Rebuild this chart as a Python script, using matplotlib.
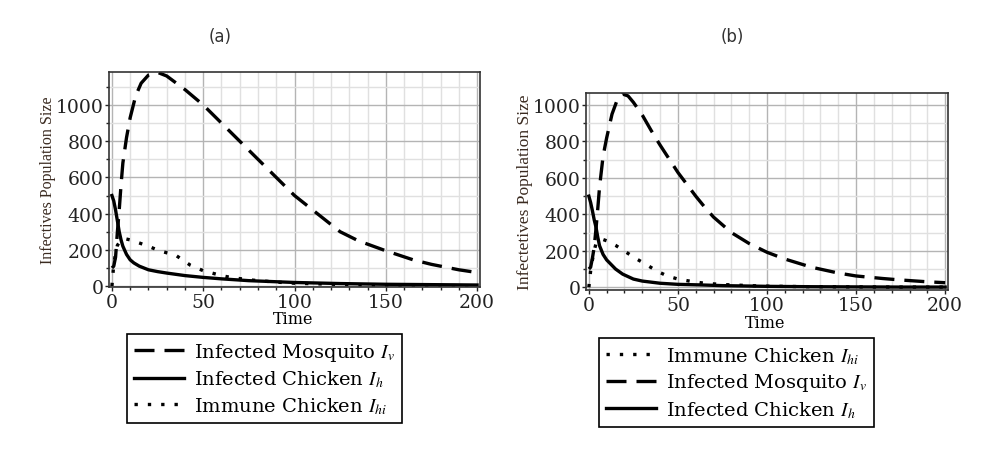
import numpy as np
import matplotlib.pyplot as plt
from matplotlib.ticker import MultipleLocator

# values
t_a = [0, 1, 2, 3, 4, 5, 6, 8, 10, 13, 16, 20, 25, 30, 40, 50, 60, 70, 80, 90, 100, 115, 125, 135, 150, 165, 175, 190, 200]
mosq_a = [100, 110, 160, 300, 420, 560, 680, 820, 930, 1050, 1120, 1165, 1180, 1160, 1085, 1000, 900, 800, 700, 600, 500, 380, 300, 250, 195, 145, 120, 90, 75]
t_ah = [0, 1, 2, 3, 4, 5, 6, 8, 10, 12, 15, 20, 25, 30, 40, 50, 60, 75, 100, 125, 150, 175, 200]
chick_a = [500, 470, 420, 360, 300, 255, 220, 175, 145, 128, 110, 90, 80, 72, 58, 48, 40, 30, 20, 14, 10, 8, 6]
t_ai = [0, 1, 2, 3, 5, 7, 10, 15, 20, 26, 35, 43, 50, 60, 66, 77, 90, 100, 125, 150, 175, 200]
imm_a = [0, 120, 180, 225, 255, 262, 255, 238, 220, 195, 170, 115, 85, 58, 46, 33, 22, 16, 9, 5, 3, 2]

t_b = [0, 1, 2, 3, 4, 5, 6, 8, 10, 13, 16, 19, 22, 25, 30, 35, 40, 50, 60, 65, 70, 80, 90, 100, 110, 125, 140, 150, 165, 175, 190, 200]
mosq_b = [100, 110, 160, 220, 320, 430, 550, 720, 820, 950, 1030, 1060, 1050, 1015, 945, 860, 780, 630, 500, 440, 385, 300, 240, 192, 155, 110, 78, 62, 48, 40, 30, 25]
t_bh = [0, 1, 2, 3, 4, 5, 6, 8, 10, 12, 15, 19, 25, 30, 40, 50, 62, 75, 100, 125, 150, 175, 200]
chick_b = [500, 465, 420, 370, 330, 275, 228, 180, 150, 130, 100, 72, 45, 34, 22, 16, 13, 9, 5, 3, 2, 1, 1]
t_bi = [0, 1, 2, 3, 4, 6, 8, 10, 15, 21, 26, 32, 38, 44, 50, 57, 65, 75, 90, 100, 125, 150, 175, 200]
imm_b = [0, 90, 150, 200, 240, 260, 262, 255, 230, 192, 160, 126, 90, 62, 45, 33, 22, 15, 9, 6, 3, 2, 1, 1]

titles = ["(a)", "(b)"]
ylabels = ["Infectives Population Size", "Infectetives Population Size"]
lab_v = r"Infected Mosquito $I_v$"
lab_h = r"Infected Chicken $I_h$"
lab_hi = r"Immune Chicken $I_{hi}$"

plt.rcParams["mathtext.fontset"] = "stix"
serif = "Liberation Serif"
W, H = 996, 456
fig = plt.figure(figsize=(W / 100, H / 100), dpi=100)

dash = (0, (6, 3))
dot = (0, (1, 3))

def setup(ax, ylim, ylabel, ysize):
    ax.set_xlim(-1.6, 201.6)
    ax.set_ylim(*ylim)
    ax.xaxis.set_major_locator(MultipleLocator(50))
    ax.xaxis.set_minor_locator(MultipleLocator(10))
    ax.yaxis.set_major_locator(MultipleLocator(200))
    ax.yaxis.set_minor_locator(MultipleLocator(100))
    ax.grid(True, which="major", color="#b4b4b4", lw=1.0)
    ax.grid(True, which="minor", color="#e0e0e0", lw=1.0)
    ax.set_axisbelow(True)
    ax.tick_params(which="both", length=3, width=1, pad=1, labelsize=13.5, colors="#222222")
    ax.tick_params(which="minor", length=2)
    for lbl in ax.get_xticklabels() + ax.get_yticklabels():
        lbl.set_family("DejaVu Serif")
    for s in ax.spines.values():
        s.set_linewidth(1.2)
        s.set_color("#333333")
    ax.set_ylabel(ylabel, family=serif, fontsize=ysize, labelpad=0, color="#3a2a20")

# panel (a)
ax1 = fig.add_axes([109 / W, 1 - 288 / H, 371 / W, 215 / H])
l1, = ax1.plot(t_a, mosq_a, color="black", lw=2.4, ls=dash)
l2, = ax1.plot(t_ah, chick_a, color="black", lw=2.4, ls="-")
l3, = ax1.plot(t_ai, imm_a, color="black", lw=2.4, ls=dot)
setup(ax1, (-5, 1182), ylabels[0], 11.5)

# panel (b)
ax2 = fig.add_axes([586 / W, 1 - 291 / H, 362 / W, 197 / H])
m1, = ax2.plot(t_b, mosq_b, color="black", lw=2.4, ls=dash)
m2, = ax2.plot(t_bh, chick_b, color="black", lw=2.4, ls="-")
m3, = ax2.plot(t_bi, imm_b, color="black", lw=2.4, ls=dot)
setup(ax2, (-15, 1066), ylabels[1], 12.5)

# titles and x labels placed like the original page
fig.text(220 / W, 1 - 37 / H, titles[0], family="DejaVu Sans", fontsize=12,
         color="#333333", ha="center", va="center")
fig.text(732 / W, 1 - 37 / H, titles[1], family="DejaVu Sans", fontsize=12,
         color="#333333", ha="center", va="center")
fig.text(293 / W, 1 - 320 / H, "Time", family="DejaVu Serif", fontsize=11.5,
         ha="center", va="center")
fig.text(765 / W, 1 - 323 / H, "Time", family="DejaVu Serif", fontsize=11.5,
         ha="center", va="center")

leg_kw = dict(loc="upper left", frameon=True, fancybox=False, framealpha=1,
              edgecolor="black", handlelength=2.6, handletextpad=0.5,
              labelspacing=0.3, borderpad=0.35, borderaxespad=0,
              prop={"family": "DejaVu Serif", "size": 14})
lg1 = fig.legend([l1, l2, l3], [lab_v, lab_h, lab_hi],
                 bbox_to_anchor=(127 / W, 1 - 335 / H), **leg_kw)
lg2 = fig.legend([m3, m1, m2], [lab_hi, lab_v, lab_h],
                 bbox_to_anchor=(599 / W, 1 - 339 / H), **leg_kw)
for lg in (lg1, lg2):
    lg.get_frame().set_linewidth(1.2)

fig.savefig("out.png", dpi=100)
